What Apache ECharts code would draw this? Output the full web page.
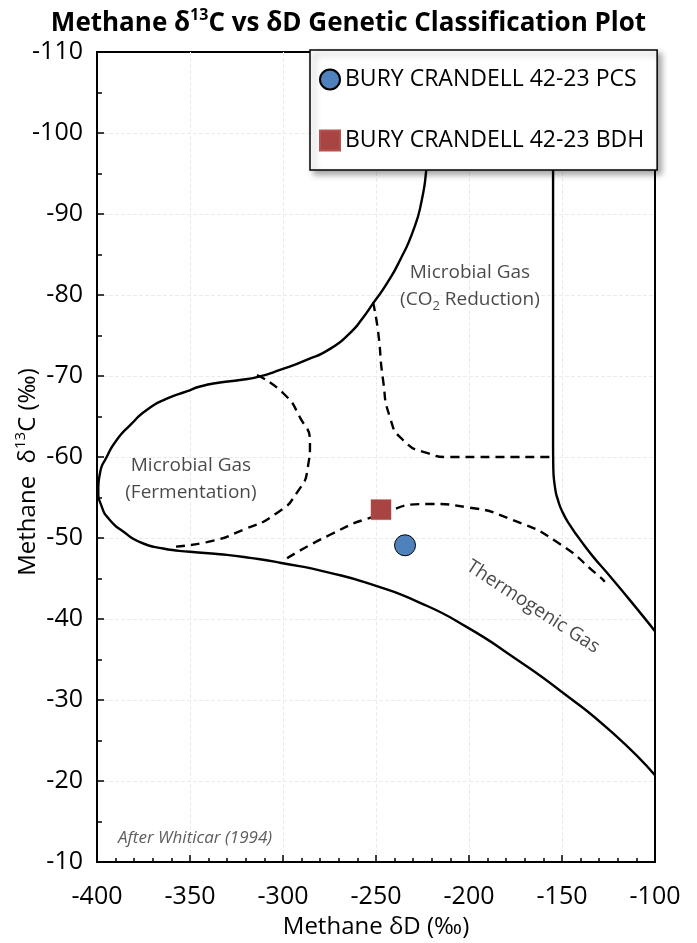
<!DOCTYPE html>
<html>
<head>
<meta charset="utf-8">
<script src="https://cdn.jsdelivr.net/npm/echarts@6/dist/echarts.min.js"></script>
<style>html,body{margin:0;padding:0;background:#fff}#c{width:697px;height:943px}</style>
</head>
<body>
<div id="c"></div>
<script>
// ---- data ----
var xTicks = [-400, -350, -300, -250, -200, -150, -100];
var yTicks = [-110, -100, -90, -80, -70, -60, -50, -40, -30, -20, -10];

var pcsName = 'BURY CRANDELL 42-23 PCS';
var bdhName = 'BURY CRANDELL 42-23 BDH';
var pcsPoints = [[-234.4, -49.1]];
var bdhPoints = [[-247.3, -53.5]];

// outer solid boundary (upper microbial edge -> fermentation bulge -> thermogenic lower edge)
var outerCurve = [[-219.4,-110],[-219.9,-105.3],[-221.0,-100.4],[-222.8,-95.8],[-225.4,-91.7],[-229.9,-88.0],[-237.1,-84.3],[-244.2,-81.4],[-251.5,-79.0],[-257.0,-77.2],[-264.0,-75.3],[-274.7,-73.35],[-287.3,-72.0],[-301.6,-70.75],[-312.4,-69.95],[-323.1,-69.5],[-333.9,-69.2],[-344.6,-68.7],[-351.8,-68.1],[-362.5,-67.2],[-373.3,-65.8],[-382.3,-63.9],[-389.4,-62.1],[-394.8,-60.0],[-398.4,-58.0],[-399.3,-55.9],[-397.5,-53.9],[-393.0,-52.2],[-385.9,-50.8],[-376.9,-49.5],[-364.4,-48.7],[-350.0,-48.3],[-333.9,-48.0],[-317.7,-47.55],[-301.6,-46.95],[-274.7,-45.7],[-251.6,-44.2],[-226.3,-42.0],[-201.1,-39.0],[-176.3,-35.3],[-149.5,-30.9],[-122.6,-25.9],[-100,-20.7]];
// right solid boundary
var rightCurve = [[-154.8,-110],[-154.8,-62.1],[-154.7,-59.0],[-153.8,-56.3],[-152.2,-54.7],[-149.5,-53.1],[-145.2,-51.4],[-140.3,-49.8],[-133.3,-47.7],[-125.8,-45.7],[-113.4,-42.3],[-100,-38.5]];
// dashed boundaries
var fermentationDash = [[-314,-70.1],[-300,-67.9],[-290.9,-64.9],[-285.5,-61.7],[-286.6,-58.8],[-292.5,-55.6],[-303.2,-53.1],[-321.5,-51.0],[-340.9,-49.5],[-360.8,-48.9]];
var thermogenicDash = [[-297.8,-47.5],[-274.7,-50.4],[-251.6,-52.6],[-221,-54.2],[-201.1,-53.8],[-176.3,-52.2],[-152.7,-49.5],[-129.6,-45.2],[-127,-44.6]];
var co2Dash = [[-251.6,-79.1],[-249,-75.7],[-246.2,-69.5],[-242.5,-64.9],[-235.5,-62.1],[-222.6,-60.5],[-210.2,-60.0],[-155.5,-60.0]];

// annotation anchors (data coordinates)
var co2LabelAt = [-199.5, -81.1];
var fermLabelAt = [-349.5, -57.3];
var thermoLabelAt = [-165.6, -41.5];
var sourceLabelAt = [-388.7, -13];

var FONT = 'Open Sans';
var chart = echarts.init(document.getElementById('c'), null, {renderer: 'canvas'});

function curve(data, dashed) {
  return {
    type: 'line', data: data, showSymbol: false, smooth: 0.6, silent: true,
    clip: true, z: 2,
    lineStyle: {color: '#000', width: 2.4, type: dashed ? [9, 6] : 'solid'}
  };
}

function textPoint(at, text, style) {
  return {
    type: 'scatter', silent: true, symbolSize: 0, z: 3,
    data: [{value: at, label: Object.assign({show: true, formatter: text, position: 'inside', color: '#1a1a1a', fontFamily: FONT}, style)}]
  };
}

var gridLine = {show: true, showMinLine: false, showMaxLine: false, lineStyle: {color: '#ebebeb', type: 'dashed'}};

chart.setOption({
  animation: false,
  title: {
    text: '{a|Methane δ}{s|13}{a|C vs δD Genetic Classification Plot}',
    left: 'center', top: 2,
    textStyle: {
      rich: {
        a: {fontFamily: FONT, fontWeight: 'bold', fontSize: 26, color: '#000', lineHeight: 34},
        s: {fontFamily: FONT, fontWeight: 'bold', fontSize: 16, color: '#000', verticalAlign: 'top', lineHeight: 34, padding: [0,0,10,0]}
      }
    }
  },
  grid: {left: 97, right: 42, top: 52, bottom: 81, show: true, borderColor: '#000', borderWidth: 2, backgroundColor: '#fff', outerBoundsMode: 'none', containLabel: false},
  legend: {
    data: [pcsName, bdhName],
    orient: 'vertical', left: 310, top: 50,
    padding: [18, 13, 18, 9], itemGap: 38,
    itemWidth: 20, itemHeight: 20,
    backgroundColor: '#fff', borderColor: '#000', borderWidth: 1.5,
    shadowBlur: 6, shadowOffsetX: 4, shadowOffsetY: 4, shadowColor: 'rgba(0,0,0,0.35)',
    textStyle: {fontFamily: FONT, fontSize: 23, color: '#000'},
    selectedMode: false
  },
  xAxis: {
    type: 'value', min: xTicks[0], max: xTicks[xTicks.length - 1], interval: 50,
    name: 'Methane δD (‰)', nameLocation: 'middle', nameGap: 53, nameMoveOverlap: false,
    nameTextStyle: {fontFamily: FONT, fontSize: 24, color: '#000'},
    axisLine: {show: true, onZero: false, lineStyle: {color: '#000', width: 2}},
    axisTick: {show: true, inside: true, length: 7, lineStyle: {color: '#000', width: 1.5}},
    minorTick: {show: true, splitNumber: 5, length: 4, lineStyle: {color: '#000', width: 1.5}},
    axisLabel: {fontFamily: FONT, fontSize: 25, color: '#000', margin: 22},
    splitLine: gridLine
  },
  yAxis: {
    type: 'value', inverse: true, min: yTicks[0], max: yTicks[yTicks.length - 1], interval: 10,
    name: '{a|Methane  δ}{s|13}{a|C (‰)}', nameLocation: 'middle', nameGap: 54, nameRotate: 90, nameMoveOverlap: false,
    nameTextStyle: {padding: [0, 30, 0, 0], rich: {
      a: {fontFamily: FONT, fontSize: 24, color: '#000', lineHeight: 30},
      s: {fontFamily: FONT, fontSize: 15, color: '#000', verticalAlign: 'top', lineHeight: 30, padding: [0,0,8,0]}
    }},
    axisLine: {show: true, onZero: false, lineStyle: {color: '#000', width: 2}},
    axisTick: {show: true, inside: true, length: 7, lineStyle: {color: '#000', width: 1.5}},
    minorTick: {show: true, splitNumber: 2, length: 5, lineStyle: {color: '#000', width: 1.5}},
    axisLabel: {fontFamily: FONT, fontSize: 25, color: '#000', margin: 14},
    splitLine: gridLine
  },
  series: [
    curve(outerCurve, false),
    curve(rightCurve, false),
    curve(fermentationDash, true),
    curve(thermogenicDash, true),
    curve(co2Dash, true),
    textPoint(co2LabelAt, 'Microbial Gas\n(CO{sub|2} Reduction)', {
      fontSize: 19, lineHeight: 27, align: 'center',
      rich: {sub: {fontFamily: FONT, fontSize: 13, color: '#1a1a1a', verticalAlign: 'bottom', lineHeight: 20}}
    }),
    textPoint(fermLabelAt, 'Microbial Gas\n(Fermentation)', {fontSize: 19, lineHeight: 27, align: 'center'}),
    textPoint(thermoLabelAt, 'Thermogenic Gas', {fontSize: 19, rotate: -33}),
    textPoint(sourceLabelAt, 'After Whiticar (1994)', {fontSize: 17, fontStyle: 'italic', position: 'right', distance: 0, color: '#333'}),
    {
      name: pcsName, type: 'scatter', data: pcsPoints, symbol: 'circle', symbolSize: 21, z: 5,
      itemStyle: {color: '#4F81BD', borderColor: '#000', borderWidth: 1, opacity: 1}
    },
    {
      name: bdhName, type: 'scatter', data: bdhPoints, symbol: 'rect', symbolSize: 20, z: 5,
      itemStyle: {color: '#A84542', borderColor: '#B5524F', borderWidth: 0.5, opacity: 1}
    }
  ]
});
</script>
</body>
</html>
